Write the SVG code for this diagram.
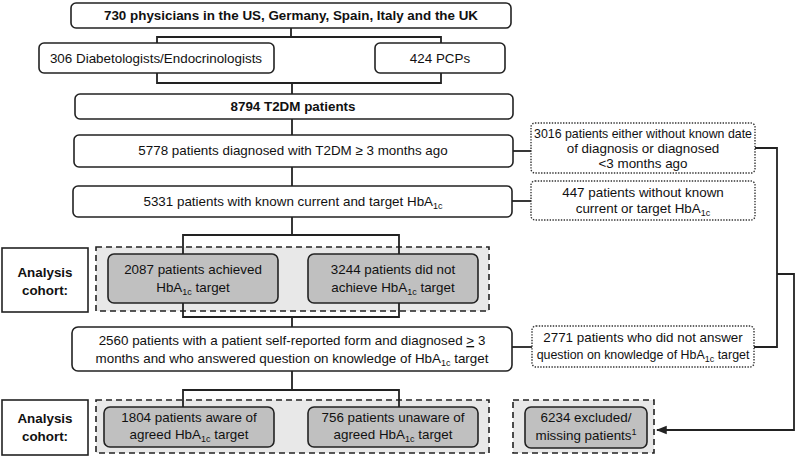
<svg xmlns="http://www.w3.org/2000/svg" width="797" height="459" viewBox="0 0 797 459">
<defs>
<style>
text{font-family:"Liberation Sans",Arial,sans-serif;font-size:13.4px;fill:#111;text-anchor:middle}
.b{font-weight:bold}
.box{fill:#fff;stroke:#222;stroke-width:1.6}
.dot{fill:#fff;stroke:#333;stroke-width:1.4;stroke-dasharray:1.4 1.4}
.grey{fill:#c0c0c0;stroke:#222;stroke-width:1.6}
.cont{fill:#e8e8e8;stroke:#222;stroke-width:1.6;stroke-dasharray:6 4}
.sq{fill:#fff;stroke:#222;stroke-width:1.6}
.con{fill:none;stroke:#222;stroke-width:1.8}
.sub{font-size:9px}
.sm{font-size:12.4px}
</style>
<marker id="arr" viewBox="0 0 10 10" refX="9" refY="5" markerWidth="6" markerHeight="6" orient="auto">
<path d="M0,1 L10,5 L0,9 z" fill="#222"/>
</marker>
</defs>
<rect width="797" height="459" fill="#fff"/>

<g id="cohort1-container"><rect class="cont" x="96" y="247" width="393" height="64"/></g>
<g id="cohort2-container"><rect class="cont" x="96" y="400" width="393" height="53"/></g>
<g id="excluded-container"><rect class="cont" x="513" y="400" width="141" height="53"/></g>

<g id="connectors">
<path class="con" d="M291,28 V37 M157,43 V37 H441 V43"/>
<path class="con" d="M157,73 V83 H441 V73 M292,83 V94"/>
<path class="con" d="M292,119 V135"/>
<path class="con" d="M292,167 V186"/>
<path class="con" d="M513,151 H531"/>
<path class="con" d="M512,201 H531"/>
<path class="con" d="M755,148 H777 V347 H754"/>
<path class="con" d="M292,217 V235 M183,254 V235 H399 V254"/>
<path class="con" d="M183,303 V317 H399 V303 M292,317 V327"/>
<path class="con" d="M512,347 H532"/>
<path class="con" d="M292,371 V390 M183,407 V390 H399 V407"/>
<path class="con" d="M777,274 H794 V430 H657" stroke-width="1.5" marker-end="url(#arr)"/>
</g>

<g id="physicians"><rect class="box" x="71" y="3" width="440" height="25" rx="5"/><text class="b" x="291" y="20">730 physicians in the US, Germany, Spain, Italy and the UK</text></g>
<g id="diabetologists"><rect class="box" x="39" y="43" width="235" height="30" rx="5"/><text x="156" y="63">306 Diabetologists/Endocrinologists</text></g>
<g id="pcps"><rect class="box" x="375" y="43" width="130" height="30" rx="5"/><text x="440" y="63">424 PCPs</text></g>
<g id="t2dm"><rect class="box" x="75" y="94" width="438" height="25" rx="5"/><text class="b" x="293" y="111">8794 T2DM patients</text></g>
<g id="diagnosed"><rect class="box" x="74" y="135" width="439" height="32" rx="5"/><text x="293" y="155">5778 patients diagnosed with T2DM ≥ 3 months ago</text></g>
<g id="known-hba1c"><rect class="box" x="73" y="186" width="439" height="31" rx="5"/><text x="293" y="206">5331 patients with known current and target HbA<tspan class="sub" dy="3">1c</tspan></text></g>
<g id="excl-diagnosis"><rect class="dot" x="531" y="123" width="224" height="50" rx="4"/><text x="643" y="138" textLength="218" lengthAdjust="spacingAndGlyphs">3016 patients either without known date</text><text x="643" y="153">of diagnosis or diagnosed</text><text x="643" y="168">&lt;3 months ago</text></g>
<g id="excl-hba1c"><rect class="dot" x="531" y="181" width="224" height="39" rx="4"/><text x="643" y="197">447 patients without known</text><text x="643" y="213">current or target HbA<tspan class="sub" dy="3">1c</tspan></text></g>

<g id="analysis1"><rect class="sq" x="2" y="248" width="86" height="64"/><text class="b" x="45" y="277">Analysis</text><text class="b" x="45" y="295">cohort:</text></g>
<g id="achieved"><rect class="grey" x="108" y="254" width="170" height="49" rx="6"/><text x="193" y="274">2087 patients achieved</text><text x="193" y="292">HbA<tspan class="sub" dy="3">1c</tspan><tspan dy="-3"> target</tspan></text></g>
<g id="not-achieved"><rect class="grey" x="308" y="254" width="170" height="49" rx="6"/><text x="393" y="274">3244 patients did not</text><text x="393" y="292">achieve HbA<tspan class="sub" dy="3">1c</tspan><tspan dy="-3"> target</tspan></text></g>

<g id="self-reported"><rect class="box" x="72" y="327" width="440" height="44" rx="6"/><text x="292" y="345">2560 patients with a patient self-reported form and diagnosed <tspan text-decoration="underline">&gt;</tspan> 3</text><text x="292" y="363">months and who answered question on knowledge of HbA<tspan class="sub" dy="3">1c</tspan><tspan dy="-3"> target</tspan></text></g>
<g id="excl-answer"><rect class="dot" x="532" y="326" width="222" height="41" rx="4"/><text x="643" y="342">2771 patients who did not answer</text><text class="sm" x="643" y="359">question on knowledge of HbA<tspan class="sub" dy="3">1c</tspan><tspan dy="-3"> target</tspan></text></g>

<g id="analysis2"><rect class="sq" x="2" y="400" width="86" height="55"/><text class="b" x="45" y="423">Analysis</text><text class="b" x="45" y="441">cohort:</text></g>
<g id="aware"><rect class="grey" x="104" y="407" width="170" height="40" rx="6"/><text x="189" y="422">1804 patients aware of</text><text x="189" y="439">agreed HbA<tspan class="sub" dy="3">1c</tspan><tspan dy="-3"> target</tspan></text></g>
<g id="unaware"><rect class="grey" x="308" y="407" width="170" height="40" rx="6"/><text x="393" y="422">756 patients unaware of</text><text x="393" y="439">agreed HbA<tspan class="sub" dy="3">1c</tspan><tspan dy="-3"> target</tspan></text></g>
<g id="excluded"><rect class="grey" x="525" y="407" width="122" height="41" rx="6"/><text x="586" y="422">6234 excluded/</text><text x="586" y="440">missing patients<tspan class="sub" dy="-5">1</tspan></text></g>
</svg>
